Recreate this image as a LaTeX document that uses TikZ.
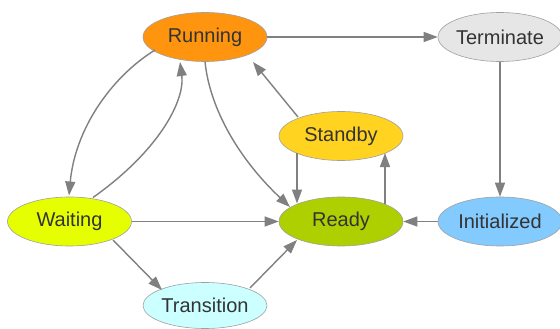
\documentclass[tikz,border=0pt]{standalone}
\usepackage{fontspec}
\setmainfont{Liberation Sans}
\usetikzlibrary{arrows.meta,shapes.geometric}
\definecolor{edgec}{HTML}{808080}
\definecolor{bordc}{HTML}{A0A0A0}
\definecolor{textc}{HTML}{333333}
\definecolor{cRun}{HTML}{FF950E}
\definecolor{cTerm}{HTML}{E6E6E6}
\definecolor{cStb}{HTML}{FFD320}
\definecolor{cWait}{HTML}{E6FF00}
\definecolor{cRdy}{HTML}{AECF00}
\definecolor{cInit}{HTML}{83CAFF}
\definecolor{cTrans}{HTML}{CCFFFF}
\newcommand\zlbl[1]{\makebox[0pt]{#1}}
\begin{document}
\begin{tikzpicture}[x=1pt,y=-1pt,
  state/.style={ellipse, draw=bordc, line width=0.6pt, minimum width=124pt,
    minimum height=49pt, inner sep=0pt, text=textc,
    font=\fontsize{20}{24}\selectfont},
  conn/.style={draw=edgec, line width=1.4pt, -{Triangle[length=14pt,width=10pt]}}]
\useasboundingbox (0,0) rectangle (560,329);
\fill[white] (0,0) rectangle (560,329);

\node[state, fill=cRun]   (Run)   at (205,37)    {\zlbl{Running}};
\node[state, fill=cTerm]  (Term)  at (500,37)    {\zlbl{Terminate}};
\node[state, fill=cStb]   (Stb)   at (341,136)   {\zlbl{Standby}};
\node[state, fill=cWait]  (Wait)  at (69.5,221.5) {\zlbl{Waiting}};
\node[state, fill=cRdy]   (Rdy)   at (341,221.5) {\zlbl{Ready}};
\node[state, fill=cInit]  (Init)  at (500,221.5) {\zlbl{Initialized}};
\node[state, fill=cTrans, minimum height=46pt] (Trans) at (205,305.5) {\zlbl{Transition}};

\draw[conn] (Run) -- (Term);
\draw[conn] (Term) -- (Init);
\draw[conn] (Init) -- (Rdy);
\draw[conn] (Wait) -- (Rdy);
\draw[conn] ([shift={(44,-18)}]Rdy.center) -- ([shift={(44,17)}]Stb.center);
\draw[conn] ([shift={(-44,17)}]Stb.center) -- ([shift={(-44,-18)}]Rdy.center);
\draw[conn] ([shift={(-43,-19)}]Stb.center) -- ([shift={(48,25)}]Run.center);
\draw[conn] (Run.south) .. controls (210,110) and (240,160) .. ([shift={(-51,-14.5)}]Rdy.center);
\draw[conn] ([shift={(-50,13)}]Run.center) .. controls (110,78) and (75,130) .. ([shift={(-0.5,-26)}]Wait.center);
\draw[conn] ([shift={(23.5,-24)}]Wait.center) .. controls (160,150) and (185,100) .. ([shift={(-25,25)}]Run.center);
\draw[conn] ([shift={(43.5,18.5)}]Wait.center) -- ([shift={(-43,-15.5)}]Trans.center);
\draw[conn] ([shift={(45,-17.5)}]Trans.center) -- ([shift={(-44,18.5)}]Rdy.center);
\end{tikzpicture}
\end{document}
